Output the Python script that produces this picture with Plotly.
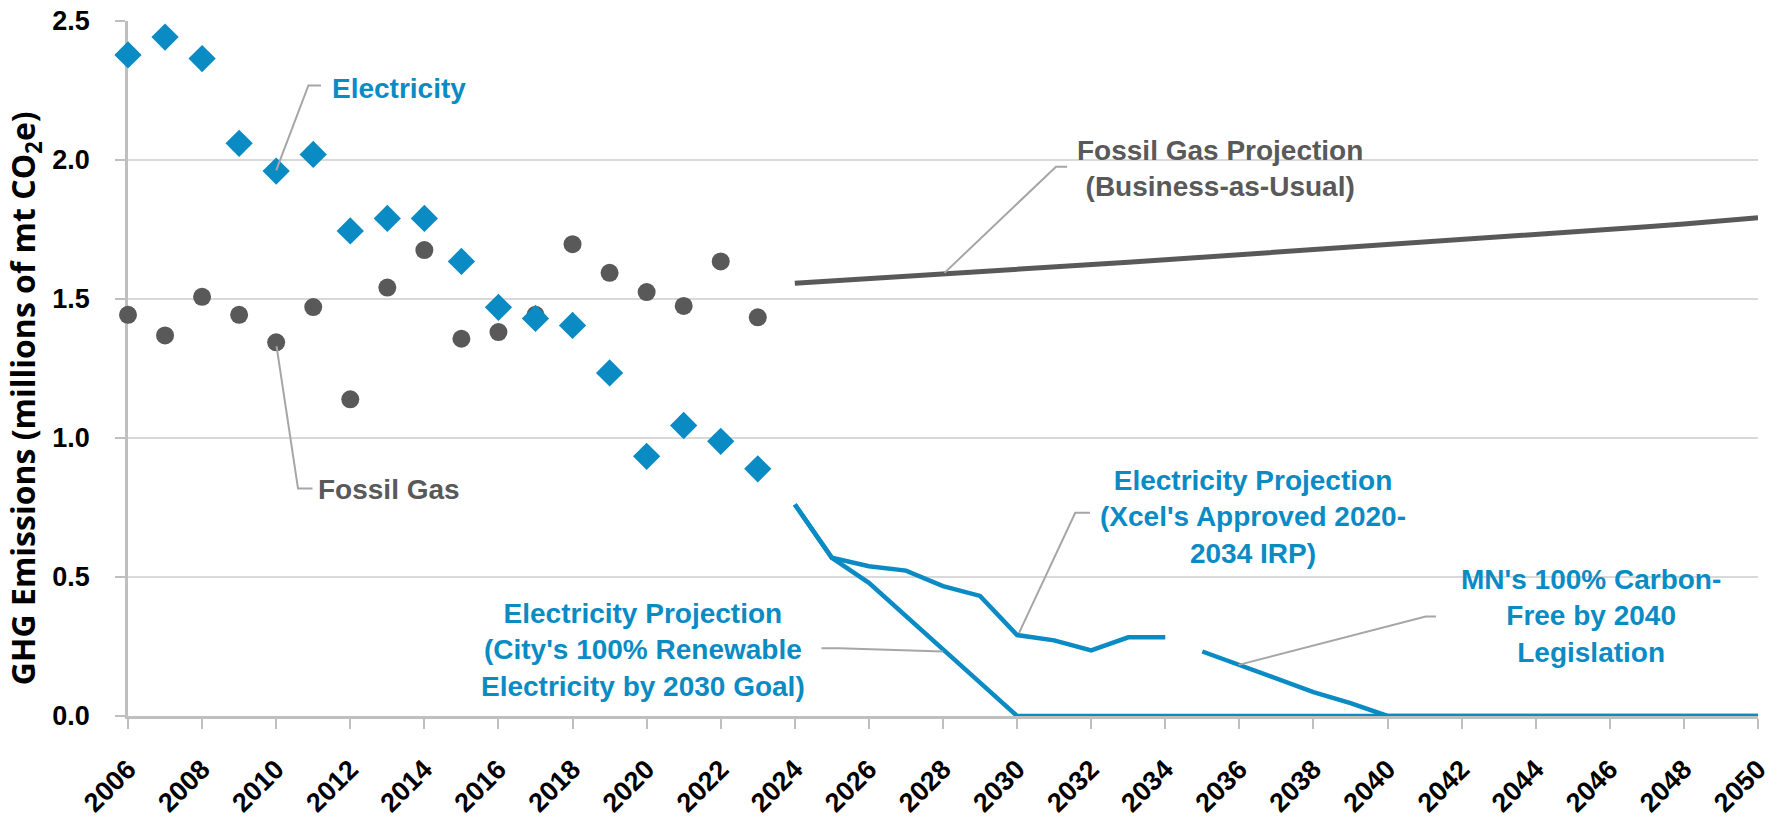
import plotly.graph_objects as go

# ---------------- data ----------------
hist_years = list(range(2006, 2024))
electricity = [2.378, 2.442, 2.365, 2.06, 1.96, 2.02, 1.745, 1.79, 1.79, 1.635,
               1.47, 1.43, 1.405, 1.234, 0.934, 1.045, 0.988, 0.889]
fossil_gas = [1.443, 1.369, 1.508, 1.443, 1.344, 1.471, 1.139, 1.541, 1.676, 1.357,
              1.381, 1.443, 1.697, 1.594, 1.525, 1.475, 1.635, 1.434]

gas_proj_years = list(range(2024, 2051))
gas_proj = [1.557, 1.565, 1.572, 1.581, 1.590, 1.598, 1.607, 1.615, 1.622, 1.632,
            1.641, 1.650, 1.659, 1.668, 1.678, 1.686, 1.693, 1.703, 1.713, 1.723,
            1.733, 1.741, 1.750, 1.760, 1.770, 1.781, 1.792]

irp_years = list(range(2024, 2035))
irp_proj = [0.761, 0.569, 0.539, 0.523, 0.467, 0.432, 0.291, 0.272, 0.236, 0.283, 0.283]

city_years = list(range(2024, 2051))
city_proj = [0.761, 0.569, 0.479, 0.36, 0.244, 0.12, 0, 0, 0, 0, 0, 0, 0, 0, 0, 0,
             0, 0, 0, 0, 0, 0, 0, 0, 0, 0, 0]

mn_years = list(range(2035, 2051))
mn_proj = [0.232, 0.184, 0.136, 0.086, 0.046, 0, 0, 0, 0, 0, 0, 0, 0, 0, 0, 0]

x_ticks = list(range(2006, 2051, 2))
y_ticks = [0.0, 0.5, 1.0, 1.5, 2.0, 2.5]

# ---------------- style ----------------
BLUE = "#0A8BC4"
GRAY = "#595959"
LEADER = "#A6A6A6"
FONT = "Liberation Sans, Arial, sans-serif"

fig = go.Figure()

fig.add_trace(go.Scatter(x=gas_proj_years, y=gas_proj, mode="lines",
                         line=dict(color=GRAY, width=5), cliponaxis=False))
fig.add_trace(go.Scatter(x=city_years, y=city_proj, mode="lines",
                         line=dict(color=BLUE, width=4.5), cliponaxis=False))
fig.add_trace(go.Scatter(x=irp_years, y=irp_proj, mode="lines",
                         line=dict(color=BLUE, width=4.5), cliponaxis=False))
fig.add_trace(go.Scatter(x=mn_years, y=mn_proj, mode="lines",
                         line=dict(color=BLUE, width=4.5), cliponaxis=False))
fig.add_trace(go.Scatter(x=hist_years, y=fossil_gas, mode="markers",
                         marker=dict(symbol="circle", size=18, color=GRAY),
                         cliponaxis=False))
fig.add_trace(go.Scatter(x=hist_years, y=electricity, mode="markers",
                         marker=dict(symbol="diamond", size=21, color=BLUE),
                         cliponaxis=False))

# leader lines (elbow connectors from labels to series)
leaders = [
    ([2011.21, 2010.87, 2010.0], [2.268, 2.268, 1.963]),
    ([2010.98, 2010.59, 2010.01], [0.818, 0.818, 1.33]),
    ([2031.35, 2031.05, 2028.04], [1.976, 1.976, 1.594]),
    ([2024.72, 2025.2, 2028.0], [0.244, 0.244, 0.232]),
    ([2031.97, 2031.57, 2030.05], [0.731, 0.731, 0.298]),
    ([2041.31, 2041.03, 2035.98], [0.358, 0.358, 0.184]),
]
for lx, ly in leaders:
    path = "M {} {} L {} {} L {} {}".format(lx[0], ly[0], lx[1], ly[1], lx[2], ly[2])
    fig.add_shape(type="path", path=path, xref="x", yref="y",
                  line=dict(color=LEADER, width=2), layer="above")

labels = [
    ("Electricity", 2013.31, 2.258, BLUE),
    ("Fossil Gas", 2013.04, 0.815, GRAY),
    ("Fossil Gas Projection<br>(Business-as-Usual)", 2035.48, 1.97, GRAY),
    ("Electricity Projection<br>(City's 100% Renewable<br>Electricity by 2030 Goal)", 2019.9, 0.236, BLUE),
    ("Electricity Projection<br>(Xcel's Approved 2020-<br>2034 IRP)", 2036.36, 0.717, BLUE),
    ("MN's 100% Carbon-<br>Free by 2040<br>Legislation", 2045.5, 0.358, BLUE),
]
for text, x, y, col in labels:
    fig.add_annotation(x=x, y=y, xref="x", yref="y", text=text, showarrow=False,
                       font=dict(family=FONT, size=28, color=col, weight="bold"),
                       align="center", xanchor="center", yanchor="middle")

# y-axis title
fig.add_annotation(x=-0.0635, y=0.458, xref="paper", yref="paper",
                   text="GHG Emissions (millions of mt CO<sub>2</sub>e)",
                   textangle=-90, showarrow=False,
                   font=dict(family="Open Sans, sans-serif", size=32, color="#000000", weight="bold"),
                   xanchor="center", yanchor="middle")

fig.update_layout(
    width=1781, height=819,
    margin=dict(l=128, r=23, t=21, b=103, autoexpand=False),
    paper_bgcolor="white", plot_bgcolor="white",
    showlegend=False,
    xaxis=dict(range=[2006, 2050], tickvals=x_ticks, ticktext=[str(v) for v in x_ticks],
               tickangle=-45, ticks="outside", ticklen=10, tickwidth=2, tickcolor="#BFBFBF",
               showline=True, linecolor="#BFBFBF", linewidth=2.5, showgrid=False,
               zeroline=False, layer="below traces", ticklabelstandoff=14, automargin=False,
               tickfont=dict(family=FONT, size=27, color="#000000", weight="bold")),
    yaxis=dict(range=[0, 2.5], tickvals=y_ticks, ticktext=["0.0", "0.5", "1.0", "1.5", "2.0", "2.5"],
               ticks="outside", ticklen=10, tickwidth=2, tickcolor="#BFBFBF",
               showline=True, linecolor="#BFBFBF", linewidth=2.5,
               showgrid=True, gridcolor="#D9D9D9", gridwidth=2,
               zeroline=False, layer="below traces", ticklabelstandoff=20, automargin=False,
               tickfont=dict(family=FONT, size=27, color="#000000", weight="bold")),
)

fig.write_html("out.html", config={"displayModeBar": False},
               post_script="document.body.style.margin='0px';")
